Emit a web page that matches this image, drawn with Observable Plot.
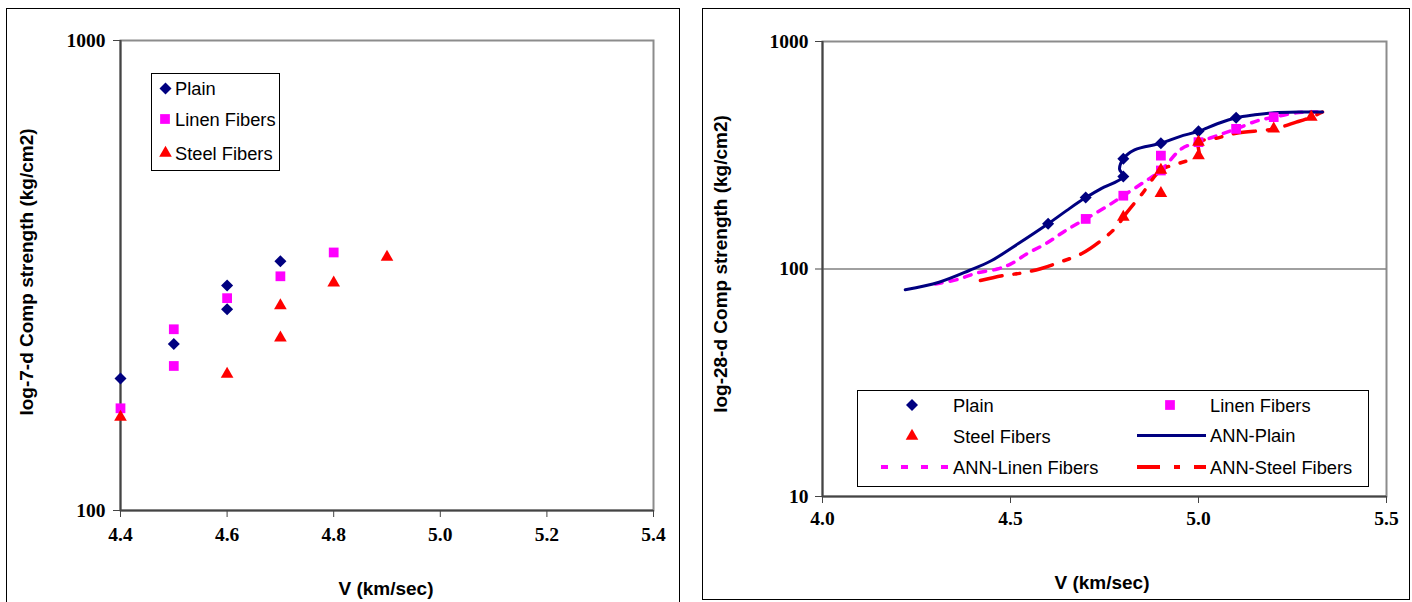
<!DOCTYPE html>
<html><head><meta charset="utf-8">
<script src="https://cdn.jsdelivr.net/npm/d3@7"></script>
<script src="https://cdn.jsdelivr.net/npm/@observablehq/plot@0.6"></script>
<style>
html,body{margin:0;padding:0;background:#fff;width:1412px;height:602px;overflow:hidden;}
#wrap{position:relative;width:1412px;height:602px;}
#wrap > svg{position:absolute;top:0;}
</style></head><body><div id="wrap"></div>
<script>
// ---------- 7-day data ----------
const plain7V = [4.4, 4.5, 4.6, 4.6, 4.7];
const plain7S = [191, 226, 301, 268, 339];
const linen7V = [4.4, 4.5, 4.5, 4.6, 4.7, 4.8];
const linen7S = [165, 243, 203, 283, 315, 354];
const steel7V = [4.4, 4.6, 4.7, 4.7, 4.8, 4.9];
const steel7S = [158, 195, 273, 233, 305, 346];
const xTicks7 = [4.4, 4.6, 4.8, 5.0, 5.2, 5.4];
const yTicks7 = [100, 1000];

// ---------- 28-day data ----------
const plain28V = [4.6, 4.7, 4.8, 4.8, 4.9, 5.0, 5.1];
const plain28S = [158, 206, 255, 305, 357, 403, 462];
const linen28V = [4.7, 4.8, 4.9, 4.9, 5.0, 5.1, 5.2];
const linen28S = [166, 210, 315, 271, 361, 413, 465];
const steel28V = [4.8, 4.9, 4.9, 5.0, 5.0, 5.2, 5.3];
const steel28S = [169, 272, 215, 361, 315, 413, 465];

const annPlainV = [4.22, 4.31, 4.39, 4.45, 4.52, 4.60, 4.65, 4.70, 4.74, 4.80, 4.79, 4.80, 4.83, 4.90, 4.95, 5.00, 5.05, 5.10, 5.15, 5.20, 5.27, 5.33];
const annPlainS = [81, 87.5, 98.5, 109, 129, 158, 181, 206, 225, 255, 275, 305, 334, 357, 382, 403, 435, 462, 476, 486, 490, 490];
const annLinenV = [4.30, 4.36, 4.41, 4.465, 4.50, 4.545, 4.595, 4.645, 4.70, 4.76, 4.80, 4.855, 4.90, 4.955, 5.00, 5.05, 5.10, 5.158, 5.20, 5.26, 5.33];
const annLinenS = [86, 90, 96, 100, 105, 117, 129.5, 147, 166, 190, 210, 241, 271, 338, 361, 386, 413, 449, 465, 486, 490];
const annSteelV = [4.42, 4.48, 4.53, 4.58, 4.63, 4.69, 4.74, 4.785, 4.80, 4.85, 4.90, 4.95, 5.00, 5.00, 5.04, 5.10, 5.20, 5.26, 5.30, 5.33];
const annSteelS = [89, 93.6, 96, 100.3, 107, 117, 133, 155, 169, 214, 272, 292, 315, 361, 373, 395, 413, 442, 465, 490];
const xTicks28 = [4.0, 4.5, 5.0, 5.5];
const yTicks28 = [10, 100, 1000];
const yGrid28 = [100];

const seriesNames = ["Plain", "Linen Fibers", "Steel Fibers", "ANN-Plain", "ANN-Linen Fibers", "ANN-Steel Fibers"];
const colors = {plain: "#000080", linen: "#FF00FF", steel: "#FF0000"};

const diamond = {draw(ctx, size) { const r = Math.sqrt(size / 2); ctx.moveTo(0, -r); ctx.lineTo(r, 0); ctx.lineTo(0, r); ctx.lineTo(-r, 0); ctx.closePath(); }};
const rows = (vs, ss) => vs.map((v, i) => ({v, s: ss[i]}));

const serif = "'Liberation Serif', 'Times New Roman', serif";
const axisFont = {fontFamily: serif, fontSize: "19.5px", fontWeight: "bold", background: "transparent", overflow: "visible"};
const tickText = {fontSize: 19.5, fontWeight: "bold", fontFamily: serif, fill: "#000"};
const dotMarks = (p, l, s) => [
  Plot.dot(rows(...p), {x: "v", y: "s", symbol: diamond, r: 4.8, fill: colors.plain, stroke: "none"}),
  Plot.dot(rows(...l), {x: "v", y: "s", symbol: "square", r: 5.5, fill: colors.linen, stroke: "none"}),
  Plot.dot(rows(...s), {x: "v", y: "s", symbol: "triangle", r: 4.7, fill: colors.steel, stroke: "none"})
];

// ---------- left chart ----------
const left = Plot.plot({
  width: 700, height: 602,
  marginLeft: 120, marginRight: 47, marginTop: 40, marginBottom: 92,
  x: {domain: [xTicks7[0], xTicks7[xTicks7.length - 1]]},
  y: {type: "log", domain: [yTicks7[0], yTicks7[1]]},
  style: axisFont,
  marks: [
    Plot.frame({stroke: "#8c8c8c", strokeWidth: 2}),
    Plot.ruleX([xTicks7[0]], {stroke: "#444", strokeWidth: 2}),
    Plot.ruleY([yTicks7[0]], {stroke: "#444", strokeWidth: 2}),
    Plot.axisX({ticks: xTicks7, tickFormat: d3.format(".1f"), tickSize: 7, tickPadding: 10, stroke: "#444", label: null, ...tickText}),
    Plot.axisY({ticks: yTicks7, tickFormat: d => String(d), tickSize: 7, tickPadding: 8, stroke: "#444", label: null, ...tickText}),
    ...dotMarks([plain7V, plain7S], [linen7V, linen7S], [steel7V, steel7S])
  ]
});
left.style.left = "0px";
document.getElementById("wrap").appendChild(left);

// ---------- right chart ----------
const right = Plot.plot({
  width: 712, height: 602,
  marginLeft: 122, marginRight: 26, marginTop: 41, marginBottom: 106,
  x: {domain: [xTicks28[0], xTicks28[xTicks28.length - 1]]},
  y: {type: "log", domain: [yTicks28[0], yTicks28[yTicks28.length - 1]]},
  style: axisFont,
  marks: [
    Plot.frame({stroke: "#8c8c8c", strokeWidth: 2}),
    Plot.ruleY(yGrid28, {stroke: "#808080", strokeWidth: 1.5}),
    Plot.ruleX([xTicks28[0]], {stroke: "#444", strokeWidth: 2}),
    Plot.ruleY([yTicks28[0]], {stroke: "#444", strokeWidth: 2}),
    Plot.axisX({ticks: xTicks28, tickFormat: d3.format(".1f"), tickSize: 7, tickPadding: 8, stroke: "#444", label: null, ...tickText}),
    Plot.axisY({ticks: yTicks28, tickFormat: d => String(d), tickSize: 7, tickPadding: 7, stroke: "#444", label: null, ...tickText}),
    Plot.line(rows(annLinenV, annLinenS), {x: "v", y: "s", stroke: colors.linen, strokeWidth: 3.5, strokeDasharray: "7,8", curve: "catmull-rom"}),
    Plot.line(rows(annSteelV, annSteelS), {x: "v", y: "s", stroke: colors.steel, strokeWidth: 3.5, strokeDasharray: "22,12,6,12", curve: "catmull-rom"}),
    Plot.line(rows(annPlainV, annPlainS), {x: "v", y: "s", stroke: colors.plain, strokeWidth: 3, curve: "catmull-rom"}),
    ...dotMarks([plain28V, plain28S], [linen28V, linen28S], [steel28V, steel28S])
  ]
});
right.style.left = "700px";
document.getElementById("wrap").appendChild(right);

// ---------- overlay: panel borders, titles, legends ----------
const ov = d3.select("#wrap").append("svg").attr("width", 1412).attr("height", 602).style("left", "0px");
ov.append("rect").attr("x", 6.5).attr("y", 8.5).attr("width", 673).attr("height", 610).attr("fill", "none").attr("stroke", "#000");
ov.append("rect").attr("x", 702.5).attr("y", 8.5).attr("width", 707).attr("height", 591).attr("fill", "none").attr("stroke", "#000");

const sans = "'Liberation Sans', Arial, sans-serif";
function title(x, y, txt, rot) {
  const t = ov.append("text").attr("x", x).attr("y", y).attr("text-anchor", "middle").attr("dominant-baseline", "central")
    .attr("font-family", sans).attr("font-weight", "bold").attr("font-size", 19).text(txt);
  if (rot) t.attr("transform", `rotate(-90,${x},${y})`);
}
title(386, 588, "V (km/sec)");
title(26, 272, "log-7-d Comp strength (kg/cm2)", true);
title(1102, 582, "V (km/sec)");
title(720, 264, "log-28-d Comp strength (kg/cm2)", true);

const symPath = (type, size) => d3.symbol().type(type).size(size)();
function legendItem(kind, color, mx, my, tx, label, line) {
  if (line) {
    ov.append("line").attr("x1", line[0]).attr("x2", line[1]).attr("y1", my).attr("y2", my)
      .attr("stroke", color).attr("stroke-width", kind.w).attr("stroke-dasharray", kind.dash || null);
  } else {
    ov.append("path").attr("d", symPath(kind, kind === diamond ? 72 : kind === d3.symbolSquare ? 95 : 69))
      .attr("transform", `translate(${mx},${my})`).attr("fill", color);
  }
  ov.append("text").attr("x", tx).attr("y", my).attr("dominant-baseline", "central")
    .attr("font-family", sans).attr("font-size", 18.3).text(label);
}
// left legend
ov.append("rect").attr("x", 151.5).attr("y", 73.5).attr("width", 128).attr("height", 97).attr("fill", "#fff").attr("stroke", "#000");
legendItem(diamond, colors.plain, 165.5, 88.5, 175, seriesNames[0]);
legendItem(d3.symbolSquare, colors.linen, 165, 119, 175, seriesNames[1]);
legendItem(d3.symbolTriangle, colors.steel, 165.5, 153, 175, seriesNames[2]);
// right legend
ov.append("rect").attr("x", 857.5).attr("y", 390.5).attr("width", 511).attr("height", 96).attr("fill", "#fff").attr("stroke", "#000");
legendItem(diamond, colors.plain, 912, 405, 953, seriesNames[0]);
legendItem(d3.symbolSquare, colors.linen, 1170, 405, 1210, seriesNames[1]);
legendItem(d3.symbolTriangle, colors.steel, 912, 436, 953, seriesNames[2]);
legendItem({w: 3}, colors.plain, 0, 435.5, 1210, seriesNames[3], [1137, 1206]);
legendItem({w: 4, dash: "7,13"}, colors.linen, 0, 467, 953, seriesNames[4], [881, 949]);
legendItem({w: 4, dash: "23,14,6,14"}, colors.steel, 0, 467, 1210, seriesNames[5], [1137, 1206]);
</script></body></html>
